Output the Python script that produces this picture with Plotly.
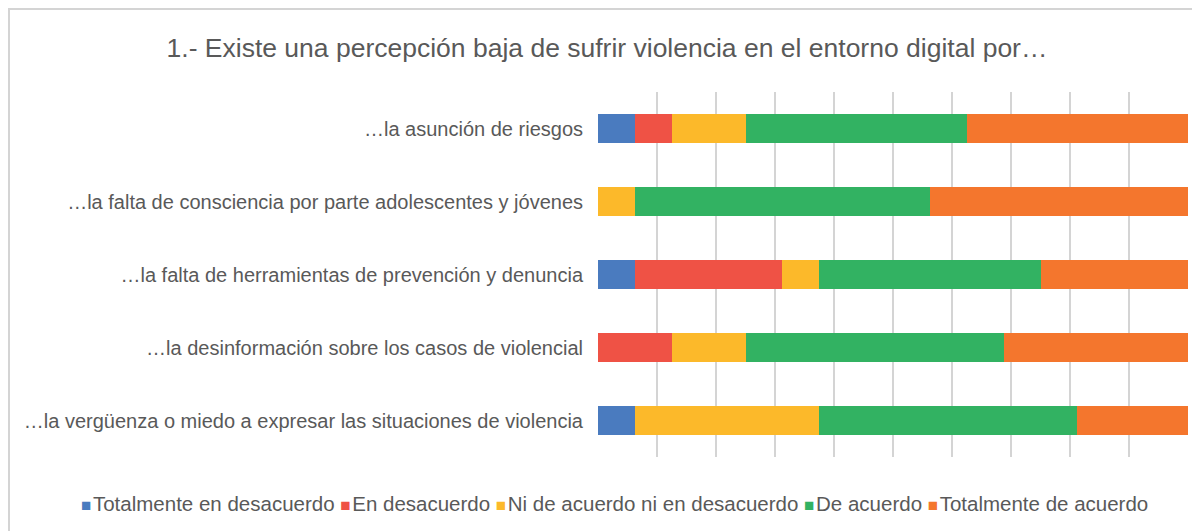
import plotly.graph_objects as go

categories = [
    "…la asunción de riesgos",
    "…la falta de consciencia por parte adolescentes y jóvenes",
    "…la falta de herramientas de prevención y denuncia",
    "…la desinformación sobre los casos de violencial",
    "…la vergüenza o miedo a expresar las situaciones de violencia",
]
series_names = [
    "Totalmente en desacuerdo",
    "En desacuerdo",
    "Ni de acuerdo ni en desacuerdo",
    "De acuerdo",
    "Totalmente de acuerdo",
]
totalmente_en_desacuerdo = [6.25, 0, 6.25, 0, 6.25]
en_desacuerdo = [6.25, 0, 25.0, 12.5, 0]
ni_de_acuerdo = [12.5, 6.25, 6.25, 12.5, 31.25]
de_acuerdo = [37.5, 50.0, 37.5, 43.75, 43.75]
totalmente_de_acuerdo = [37.5, 43.75, 25.0, 31.25, 18.75]
series_values = [totalmente_en_desacuerdo, en_desacuerdo, ni_de_acuerdo,
                 de_acuerdo, totalmente_de_acuerdo]
colors = ["#4a7bbf", "#ef5245", "#fcb92a", "#32b262", "#f4762d"]

fig = go.Figure()
for name, vals, col in zip(series_names, series_values, colors):
    fig.add_trace(go.Bar(
        y=categories, x=vals, name=name, orientation="h",
        marker=dict(color=col, line=dict(width=0)),
        hoverinfo="x+name",
    ))

# page body has an 8px margin; figure coordinates are offset accordingly
OFF = 8
W, H = 1200 - OFF, 531 - OFF
L, R, T, B = 598 - OFF, 12, 92 - OFF, 74
pw, ph = W - L - R, H - T - B

def px_x(p):
    return (p - OFF - L) / pw

def px_y(p):
    return (H - B - (p - OFF)) / ph

font_family = "Liberation Sans, Arial, sans-serif"
grey = "#595959"

legend_text = " ".join(
    f'<span style="color:{c};font-size:17px">■</span><span style="font-size:6px"> </span>{n}'
    for n, c in zip(series_names, colors)
)

fig.update_layout(
    width=W, height=H,
    barmode="stack",
    bargap=0.59,
    margin=dict(l=L, r=R, t=T, b=B),
    paper_bgcolor="white",
    plot_bgcolor="white",
    font=dict(family=font_family, color=grey, size=16),
    title=dict(
        text="1.- Existe una percepción baja de sufrir violencia en el entorno digital por…",
        x=(607 - OFF) / W, xanchor="center",
        y=1 - (48 - OFF) / H, yanchor="middle",
        font=dict(size=26.5, color=grey, family=font_family),
    ),
    xaxis=dict(
        range=[0, 100], dtick=10, showgrid=True, gridcolor="#d4d4d4", gridwidth=1.6,
        showticklabels=False, zeroline=False, showline=False, fixedrange=True,
    ),
    yaxis=dict(
        categoryorder="array", categoryarray=categories, autorange="reversed",
        showgrid=False, ticks="", ticklabelstandoff=14,
        tickfont=dict(size=20, color=grey, family=font_family),
    ),
    showlegend=False,
    annotations=[
        dict(text=legend_text, xref="paper", yref="paper",
             x=px_x(614), y=px_y(503), xanchor="center", yanchor="middle",
             showarrow=False, font=dict(size=20.5, color=grey, family=font_family)),
    ],
    shapes=[
        dict(type="line", xref="paper", yref="paper",
             x0=px_x(8), x1=px_x(1200), y0=px_y(9), y1=px_y(9),
             line=dict(color="#d4d4d4", width=2)),
        dict(type="line", xref="paper", yref="paper",
             x0=px_x(9), x1=px_x(9), y0=px_y(9), y1=px_y(531),
             line=dict(color="#d4d4d4", width=2)),
    ],
)

fig.write_html("out.html")
